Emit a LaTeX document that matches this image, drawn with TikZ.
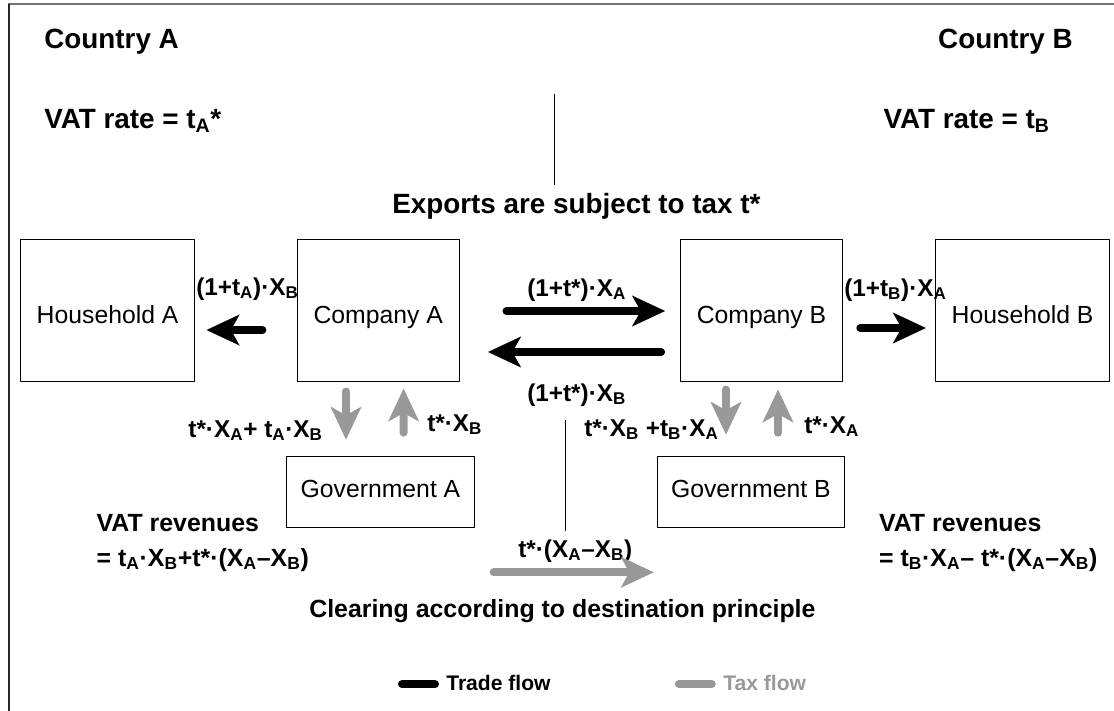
\documentclass[tikz,border=0pt]{standalone}
\usepackage{fontspec}
\setmainfont{Liberation Sans}
\usetikzlibrary{arrows.meta,calc}
\definecolor{taxgray}{gray}{0.6}
\definecolor{framegray}{gray}{0.45}
\newcommand\ix[1]{\textsubscript{#1}}
\tikzset{
	box/.style={draw, line width=0.7pt, inner sep=0pt, font=\fontsize{17.6}{20}\selectfont},
	bigbox/.style={box, minimum height=3.54cm, text height=22.7pt, text depth=4.4pt},
	govbox/.style={box, minimum width=4.68cm, minimum height=1.79cm, text height=12.1pt, text depth=4.4pt},
	head/.style={inner sep=0pt, font=\bfseries\fontsize{19.8}{22}\selectfont},
	lbl/.style={inner sep=0pt, font=\bfseries\fontsize{17.3}{20}\selectfont},
	rev/.style={inner sep=0pt, font=\bfseries\fontsize{17.7}{20}\selectfont},
	key/.style={inner sep=0pt, font=\bfseries\fontsize{15}{17}\selectfont},
	trade/.style={line width=0.2cm, line cap=round, -{Stealth[length=0.83cm, width=0.78cm, inset=0.22cm, line width=0pt]}},
	tax/.style={trade, taxgray},
	keyline/.style={line width=0.2cm, line cap=round}
}
\begin{document}
\begin{tikzpicture}[x=0.025cm, y=-0.025cm, line join=round]
	\useasboundingbox (0,0) rectangle (1114,711);
	\draw[framegray, line width=0.05cm] (8,4) -- (1114,4);
	\draw[black!85, line width=0.05cm] (9,4) -- (9,711);
	% boxes
	\node[bigbox, minimum width=4.35cm] (ha) at (107.6,310.2) {Household A};
	\node[bigbox, minimum width=4.04cm] (ca) at (378.2,310.2) {Company A};
	\node[bigbox, minimum width=4.06cm] (cb) at (761.5,310.2) {Company B};
	\node[bigbox, minimum width=4.35cm] (hb) at (1022.6,310.2) {Household B};
	\node[govbox] (ga) at (380.5,492) {Government A};
	\node[govbox] (gb) at (750.8,492) {Government B};
	% headings
	\node[head, anchor=base west] (cntA) at (44,48) {Country A};
	\node[head, anchor=base east] (cntB) at (1073,48) {Country B};
	\node[head, anchor=base west] (rateA) at (44,128) {VAT rate = t\ix{A}*};
	\node[head, anchor=base east] (rateB) at (1050,128) {VAT rate = t\ix{B}};
	\node[head, anchor=base west] (exp) at (392,213) {Exports are subject to tax t*};
	\draw[line width=0.6pt] (554,94) -- (554,185);
	\draw[line width=0.6pt] (565.6,420) -- (565.6,530.7);
	% flow labels
	\node[lbl, anchor=base west] (pA) at (196,295) {(1+t\ix{A})·X\ix{B}};
	\node[lbl, anchor=base west] (xA) at (527,296) {(1+t*)·X\ix{A}};
	\node[lbl, anchor=base west] (xB) at (527,401) {(1+t*)·X\ix{B}};
	\node[lbl, anchor=base west] (pB) at (844,296) {(1+t\ix{B})·X\ix{A}};
	\node[lbl, anchor=base east] (dA) at (323,437) {t*·X\ix{A}+ t\ix{A}·X\ix{B}};
	\node[lbl, anchor=base west] (uA) at (427,431) {t*·X\ix{B}};
	\node[lbl, anchor=base west] (dB) at (584,436) {t*·X\ix{B} +t\ix{B}·X\ix{A}};
	\node[lbl, anchor=base west] (uB) at (804,433) {t*·X\ix{A}};
	\node[lbl, anchor=base west] (clr) at (518,557) {t*·(X\ix{A}–X\ix{B})};
	\node[rev, anchor=base west] (revA) at (96.4,531) {VAT revenues};
	\node[rev, anchor=base west] (sumA) at (96.4,566) {= t\ix{A}·X\ix{B}+t*·(X\ix{A}–X\ix{B})};
	\node[rev, anchor=base west] (revB) at (878.8,531) {VAT revenues};
	\node[rev, anchor=base west] (sumB) at (878.8,566) {= t\ix{B}·X\ix{A}– t*·(X\ix{A}–X\ix{B})};
	\node[rev, anchor=base] (dest) at (562.4,617) {Clearing according to destination principle};
	% trade flows
	\draw[trade, shorten <=0.8625cm, shorten >=0.285cm] ($(ca.west)+(0,19.8)$) -- ($(ha.east)+(0,19.8)$);
	\draw[trade, shorten <=1.175cm, shorten >=0.3675cm] ($(ca.east)+(0,0.8)$) -- ($(cb.west)+(0,0.8)$);
	\draw[trade, shorten <=0.4675cm, shorten >=0.7125cm] ($(cb.west)+(0,41.8)$) -- ($(ca.east)+(0,41.8)$);
	\draw[trade, shorten <=0.4275cm, shorten >=0.23cm] ($(cb.east)+(0,17.8)$) -- ($(hb.west)+(0,17.8)$);
	% tax flows
	\draw[tax, shorten <=0.25cm, shorten >=0.4cm] ($(ca.south)+(-32.2,0)$) -- ($(ga.north)+(-34.5,0)$);
	\draw[tax, shorten <=0.575cm, shorten >=0.175cm] ($(ga.north)+(23.1,0)$) -- ($(ca.south)+(25.4,0)$);
	\draw[tax, shorten <=0.2cm, shorten >=0.525cm] ($(cb.south)+(-35.5,0)$) -- ($(gb.north)+(-24.8,0)$);
	\draw[tax, shorten <=0.575cm, shorten >=0.2cm] ($(gb.north)+(27.2,0)$) -- ($(cb.south)+(16.5,0)$);
	\draw[tax] ($(ga.south east)+(19,44)$) -- ($(gb.south west)+(-2.9,44)$);
	% legend
	\node[key, anchor=base west] (kTrade) at (446,690) {Trade flow};
	\node[key, anchor=base west, taxgray] (kTax) at (723,690) {Tax flow};
	\draw[keyline] ($(kTrade.west)+(-44,1.7)$) -- ($(kTrade.west)+(-11,1.7)$);
	\draw[keyline, taxgray] ($(kTax.west)+(-44.2,1.7)$) -- ($(kTax.west)+(-11.2,1.7)$);
\end{tikzpicture}
\end{document}
